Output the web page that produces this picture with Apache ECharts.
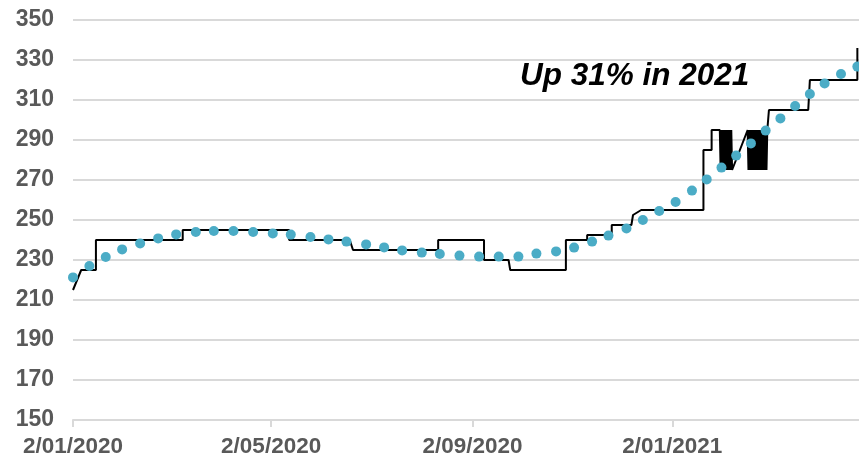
<!DOCTYPE html>
<html>
<head>
<meta charset="utf-8">
<script src="https://cdn.jsdelivr.net/npm/echarts@6/dist/echarts.min.js"></script>
<style>
  html, body { margin: 0; padding: 0; background: #fff; }
  #chart { width: 859px; height: 458px; }
</style>
</head>
<body>
<div id="chart"></div>
<script>
// black step line: change points (date[Thour], value)
const stepDates = [
  '2020-01-02', '2020-01-07', '2020-01-16', '2020-01-16', '2020-03-09', '2020-03-09',
  '2020-05-13', '2020-05-13', '2020-06-19', '2020-06-21', '2020-08-12', '2020-08-12',
  '2020-09-09', '2020-09-09', '2020-09-24', '2020-09-25', '2020-10-29', '2020-10-29',
  '2020-11-11', '2020-11-11', '2020-11-26', '2020-11-26', '2020-12-08', '2020-12-09',
  '2020-12-14', '2021-01-21', '2021-01-21', '2021-01-26', '2021-01-26',
  // first burst of quotes
  '2021-01-31', '2021-01-31T12', '2021-02-01', '2021-02-01T12', '2021-02-02', '2021-02-02T12',
  '2021-02-03', '2021-02-03T12', '2021-02-04', '2021-02-04T12', '2021-02-05', '2021-02-05T12',
  '2021-02-06', '2021-02-06T12', '2021-02-07', '2021-02-07T12',
  // second burst
  '2021-02-17', '2021-02-17T12', '2021-02-18', '2021-02-18T12', '2021-02-19', '2021-02-19T12',
  '2021-02-20', '2021-02-20T12', '2021-02-21', '2021-02-21T12', '2021-02-22', '2021-02-22T12',
  '2021-02-23', '2021-02-23T12', '2021-02-24', '2021-02-24T12', '2021-02-25', '2021-02-25T12',
  '2021-02-26', '2021-02-26T12', '2021-02-27', '2021-02-27T12', '2021-02-28', '2021-02-28T12',
  '2021-03-01',
  '2021-03-02', '2021-03-02', '2021-03-26', '2021-03-27', '2021-04-25', '2021-04-25'
]
const stepValues = [
  215, 225, 225, 240, 240, 245,
  245, 240, 240, 235, 235, 240,
  240, 230, 230, 225, 225, 240,
  240, 242.5, 242.5, 247.5, 247.5, 252.5,
  255, 255, 285, 285, 295,
  295, 275, 295, 275, 295, 275,
  295, 275, 295, 275, 295, 275,
  295, 275, 295, 275,
  295, 275, 295, 275, 295, 275,
  295, 275, 295, 275, 295, 275,
  295, 275, 295, 275, 295, 275,
  295, 275, 295, 275, 295, 275,
  295,
  295, 305, 305, 320, 320, 336
]

// blue dotted trend
const trendDates = [
  '2020-01-02', '2020-01-12', '2020-01-22', '2020-02-01', '2020-02-12', '2020-02-23',
  '2020-03-05', '2020-03-17', '2020-03-28', '2020-04-09', '2020-04-21', '2020-05-03',
  '2020-05-14', '2020-05-26', '2020-06-06', '2020-06-17', '2020-06-29', '2020-07-10',
  '2020-07-21', '2020-08-02', '2020-08-13', '2020-08-25', '2020-09-06', '2020-09-18',
  '2020-09-30', '2020-10-11', '2020-10-23', '2020-11-03', '2020-11-14', '2020-11-24',
  '2020-12-05', '2020-12-15', '2020-12-25', '2021-01-04', '2021-01-14', '2021-01-23',
  '2021-02-01', '2021-02-10', '2021-02-19', '2021-02-28', '2021-03-09', '2021-03-18',
  '2021-03-27', '2021-04-05', '2021-04-15', '2021-04-25'
]
const trendValues = [
  221.3, 227, 231.5, 235.3, 238.3, 240.8,
  242.8, 244, 244.5, 244.5, 244, 243.3,
  242.7, 241.5, 240.3, 239.2, 237.8, 236.3,
  234.8, 233.7, 233, 232.2, 231.7, 231.7,
  231.7, 233.2, 234.3, 236.2, 239.2, 242.2,
  245.8, 250, 254.5, 259, 264.7, 270.3,
  276.2, 282.2, 288.3, 294.7, 300.8, 307,
  313, 318.3, 323, 326.7
]

const xTickDates = ['2020-01-02', '2020-05-02', '2020-09-02', '2021-01-02']
const xMin = '2020-01-02'
const xMax = '2021-04-26'
const annotation = 'Up 31% in 2021'

function toTime(s) {
  const [day, hour] = s.split('T')
  const p = day.split('-').map(Number)
  return new Date(p[0], p[1] - 1, p[2], hour ? Number(hour) : 0).getTime()
}

function fmtDate(v) {
  const d = new Date(v)
  const mm = String(d.getMonth() + 1).padStart(2, '0')
  return `${d.getDate()}/${mm}/${d.getFullYear()}`
}

const font = 'Liberation Sans, Arial, sans-serif'
const gridColor = '#d9d9d9'
const tickTimes = xTickDates.map(toTime)

const chart = echarts.init(document.getElementById('chart'), null, { renderer: 'canvas' })

// x is a plain value axis holding timestamps, so custom tick positions work
chart.setOption({
  animation: false,
  grid: { left: 73, right: 0, top: 20, bottom: 38 },
  xAxis: {
    type: 'value',
    min: toTime(xMin),
    max: toTime(xMax),
    axisLine: { show: true, lineStyle: { color: gridColor, width: 2 } },
    axisTick: { show: true, customValues: tickTimes, length: 7, lineStyle: { color: gridColor, width: 2 } },
    axisLabel: {
      customValues: tickTimes,
      formatter: fmtDate,
      color: '#595959',
      fontFamily: font,
      fontWeight: 'bold',
      fontSize: 22.5,
      margin: 15,
      showMinLabel: true,
      showMaxLabel: true,
      hideOverlap: false
    },
    splitLine: { show: false }
  },
  yAxis: {
    type: 'value',
    min: 150,
    max: 350,
    interval: 20,
    axisLine: { show: false },
    axisTick: { show: false },
    axisLabel: {
      color: '#595959',
      fontFamily: font,
      fontWeight: 'bold',
      fontSize: 23,
      margin: 19
    },
    splitLine: { lineStyle: { color: gridColor, width: 2 } }
  },
  series: [
    {
      name: 'Price',
      type: 'line',
      data: stepDates.map((d, i) => [toTime(d), stepValues[i]]),
      showSymbol: false,
      lineStyle: { color: '#000', width: 2 },
      z: 2
    },
    {
      name: 'Trend',
      type: 'scatter',
      data: trendDates.map((d, i) => [toTime(d), trendValues[i]]),
      symbolSize: 10,
      itemStyle: { color: '#4bacc6', opacity: 1 },
      z: 3
    }
  ],
  graphic: [
    {
      type: 'text',
      x: 520,
      y: 76,
      style: {
        text: annotation,
        fill: '#000',
        font: `italic bold 31.5px ${font}`,
        verticalAlign: 'middle'
      }
    }
  ]
})
</script>
</body>
</html>
